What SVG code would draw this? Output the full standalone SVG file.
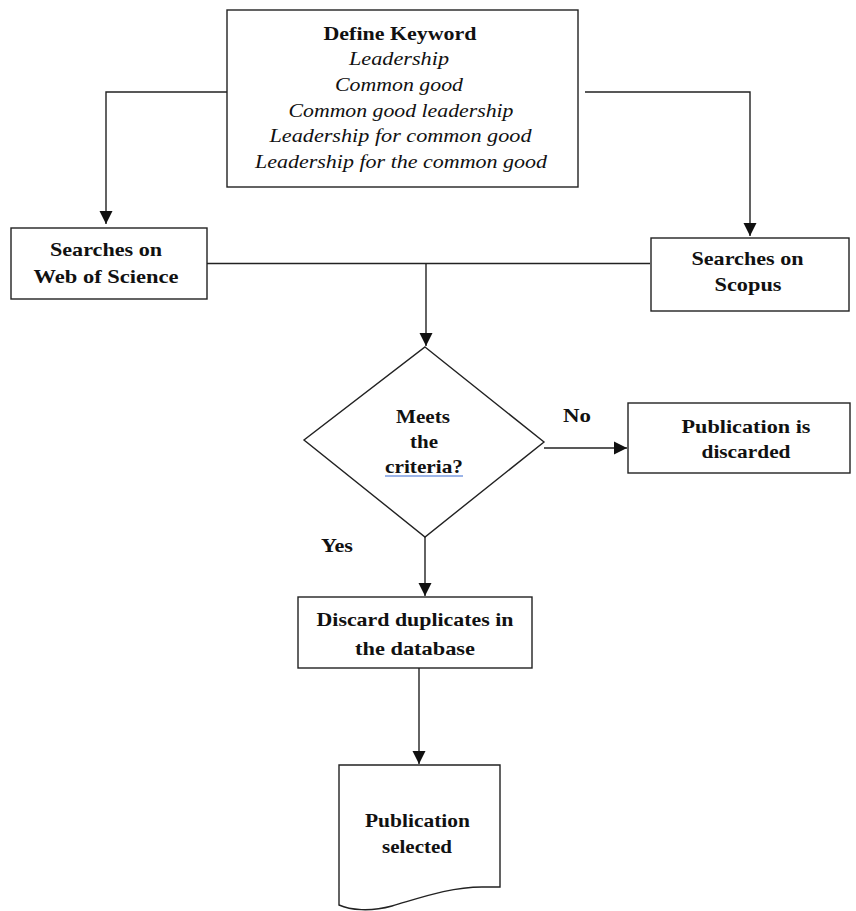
<svg xmlns="http://www.w3.org/2000/svg" width="856" height="911" viewBox="0 0 856 911">
<defs>
<marker id="ah" markerWidth="14" markerHeight="14" refX="13" refY="7" orient="auto" markerUnits="userSpaceOnUse">
<path d="M0,0.5 L13,7 L0,13.5 Z" fill="#111"/>
</marker>
<style>
.box{fill:#fff;stroke:#222;stroke-width:1.4}
.ln{fill:none;stroke:#222;stroke-width:1.4}
.b{font-family:"Liberation Serif","Times New Roman",serif;font-weight:bold;font-size:19px;fill:#111;text-anchor:middle}
.i{font-family:"Liberation Serif","Times New Roman",serif;font-style:italic;font-size:18px;fill:#111;text-anchor:middle}
</style>
</defs>
<rect width="856" height="911" fill="#fff"/>
<g id="connectors">
<path class="ln" d="M227,92 H106 V224" marker-end="url(#ah)"/>
<path class="ln" d="M585,92 H750 V236" marker-end="url(#ah)"/>
<path class="ln" d="M207,263.5 H650"/>
<path class="ln" d="M426,263.5 V346" marker-end="url(#ah)"/>
<path class="ln" d="M544,448 H627" marker-end="url(#ah)"/>
<path class="ln" d="M425,537 V596" marker-end="url(#ah)"/>
<path class="ln" d="M419,668 V764" marker-end="url(#ah)"/>
<text class="b" x="577" y="422" textLength="28" lengthAdjust="spacingAndGlyphs">No</text>
<text class="b" x="337" y="552" textLength="32" lengthAdjust="spacingAndGlyphs">Yes</text>
</g>
<g id="define-keyword">
<rect class="box" x="227" y="10" width="351" height="177"/>
<text class="b" x="400" y="40" textLength="153" lengthAdjust="spacingAndGlyphs">Define Keyword</text>
<text class="i" x="399" y="65" textLength="100" lengthAdjust="spacingAndGlyphs">Leadership</text>
<text class="i" x="399" y="91" textLength="128" lengthAdjust="spacingAndGlyphs">Common good</text>
<text class="i" x="401" y="117" textLength="225" lengthAdjust="spacingAndGlyphs">Common good leadership</text>
<text class="i" x="400.5" y="142" textLength="262" lengthAdjust="spacingAndGlyphs">Leadership for common good</text>
<text class="i" x="401" y="168" textLength="292" lengthAdjust="spacingAndGlyphs">Leadership for the common good</text>
</g>
<g id="web-of-science">
<rect class="box" x="11" y="228" width="196" height="71"/>
<text class="b" x="106" y="256" textLength="112" lengthAdjust="spacingAndGlyphs">Searches on</text>
<text class="b" x="106" y="283" textLength="145" lengthAdjust="spacingAndGlyphs">Web of Science</text>
</g>
<g id="scopus">
<rect class="box" x="651" y="238" width="198" height="73"/>
<text class="b" x="747.5" y="265" textLength="112" lengthAdjust="spacingAndGlyphs">Searches on</text>
<text class="b" x="748" y="291" textLength="67" lengthAdjust="spacingAndGlyphs">Scopus</text>
</g>
<g id="criteria">
<path class="box" d="M425,347 L544,442 L425,537 L304,440 Z"/>
<text class="b" x="423" y="423" textLength="54" lengthAdjust="spacingAndGlyphs">Meets</text>
<text class="b" x="424" y="448" textLength="28" lengthAdjust="spacingAndGlyphs">the</text>
<text class="b" x="424" y="473" textLength="78" lengthAdjust="spacingAndGlyphs">criteria?</text>
<path d="M385,476 H463" fill="none" stroke="#7a9be0" stroke-width="1.6"/>
</g>
<g id="discarded">
<rect class="box" x="628" y="403" width="222" height="70"/>
<text class="b" x="746" y="433" textLength="129" lengthAdjust="spacingAndGlyphs">Publication is</text>
<text class="b" x="746" y="458" textLength="89" lengthAdjust="spacingAndGlyphs">discarded</text>
</g>
<g id="duplicates">
<rect class="box" x="298" y="597" width="234" height="71"/>
<text class="b" x="415" y="626" textLength="197" lengthAdjust="spacingAndGlyphs">Discard duplicates in</text>
<text class="b" x="415" y="655" textLength="120" lengthAdjust="spacingAndGlyphs">the database</text>
</g>
<g id="selected">
<path class="box" d="M339,765 H500 V887 H482 C450,887 420,898 392,906 C370,912 350,910 339,905 Z"/>
<text class="b" x="417.5" y="827" textLength="105" lengthAdjust="spacingAndGlyphs">Publication</text>
<text class="b" x="417" y="853" textLength="70" lengthAdjust="spacingAndGlyphs">selected</text>
</g>
</svg>
